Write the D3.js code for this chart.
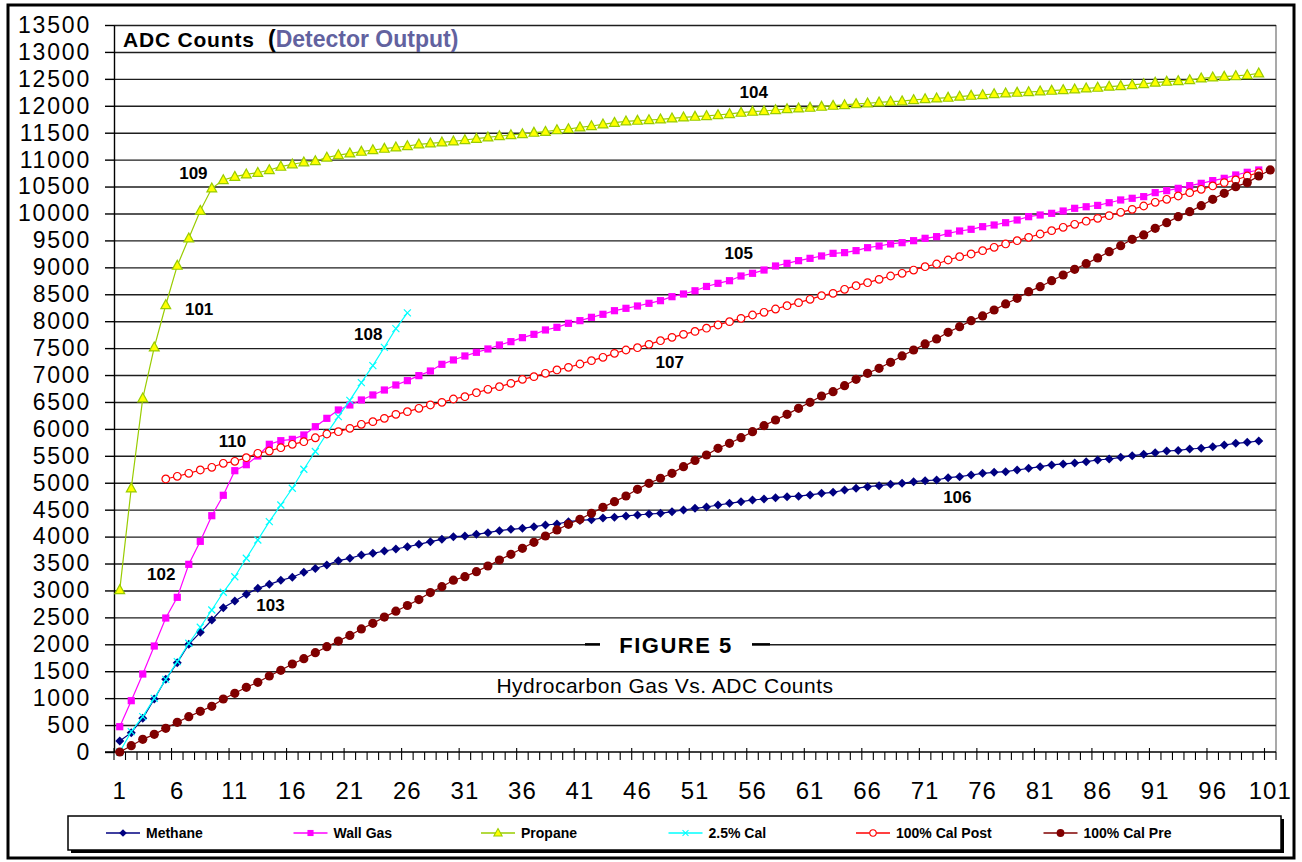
<!DOCTYPE html>
<html>
<head>
<meta charset="utf-8">
<script src="https://cdn.jsdelivr.net/npm/d3@7"></script>
<style>
  body { margin: 0; background: #fff; }
  svg { display: block; font-family: "Liberation Sans", Arial, sans-serif; }
</style>
</head>
<body>
<div id="chart"></div>
<script>
// categories on the x axis (sample number)
const categories = d3.range(1, 102);
const xTickLabels = [1, 6, 11, 16, 21, 26, 31, 36, 41, 46, 51, 56, 61, 66, 71, 76, 81, 86, 91, 96, 101];
const yTickValues = [0, 500, 1000, 1500, 2000, 2500, 3000, 3500, 4000, 4500, 5000, 5500, 6000, 6500,
  7000, 7500, 8000, 8500, 9000, 9500, 10000, 10500, 11000, 11500, 12000, 12500, 13000, 13500];

const seriesNames = ['Methane', 'Wall Gas', 'Propane', '2.5% Cal', '100% Cal Post', '100% Cal Pre'];

const methane = [204, 359, 625, 984, 1350, 1659, 2000, 2222, 2451, 2680,
  2804, 2928, 3039, 3113, 3188, 3244, 3337, 3408, 3473, 3553,
  3597, 3658, 3689, 3733, 3770, 3812, 3856, 3905, 3949, 3998,
  4010, 4042, 4073, 4110, 4135, 4154, 4184, 4215, 4234, 4277,
  4300, 4315, 4345, 4360, 4383, 4401, 4420, 4432, 4463, 4494,
  4525, 4550, 4587, 4618, 4649, 4680, 4698, 4723, 4741, 4750,
  4773, 4804, 4822, 4865, 4897, 4927, 4946, 4971, 4990, 5020,
  5039, 5051, 5094, 5113, 5144, 5175, 5194, 5206, 5237, 5268,
  5299, 5330, 5350, 5365, 5391, 5422, 5441, 5472, 5503, 5528,
  5558, 5589, 5600, 5627, 5640, 5670, 5701, 5732, 5751, 5775];

const wallGas = [470, 953, 1448, 1968, 2488, 2872, 3485, 3912, 4388, 4767,
  5224, 5335, 5497, 5714, 5781, 5806, 5887, 6041, 6196, 6351,
  6444, 6537, 6630, 6722, 6815, 6896, 6989, 7075, 7199, 7280,
  7354, 7422, 7484, 7558, 7620, 7694, 7756, 7837, 7886, 7960,
  8010, 8072, 8128, 8195, 8239, 8282, 8332, 8381, 8455, 8505,
  8565, 8645, 8703, 8752, 8839, 8889, 8950, 9025, 9074, 9124,
  9167, 9211, 9260, 9273, 9310, 9365, 9396, 9434, 9458, 9495,
  9539, 9570, 9632, 9675, 9706, 9755, 9786, 9829, 9879, 9941,
  9972, 10003, 10046, 10096, 10125, 10150, 10200, 10251, 10282, 10313,
  10387, 10424, 10467, 10517, 10560, 10610, 10653, 10715, 10765, 10808];

const propane = [3008, 4897, 6568, 7515, 8300, 9031, 9539, 10052, 10468, 10622,
  10683, 10727, 10757, 10808, 10870, 10914, 10951, 10975, 11040, 11085,
  11117, 11148, 11179, 11204, 11229, 11253, 11284, 11303, 11322, 11340,
  11365, 11389, 11414, 11439, 11458, 11476, 11501, 11519, 11550, 11569,
  11600, 11625, 11656, 11686, 11711, 11724, 11736, 11749, 11767, 11786,
  11798, 11811, 11829, 11848, 11872, 11891, 11903, 11922, 11940, 11953,
  11965, 11984, 12002, 12015, 12034, 12046, 12065, 12077, 12085, 12108,
  12126, 12139, 12151, 12170, 12188, 12201, 12219, 12232, 12244, 12256,
  12269, 12281, 12294, 12306, 12325, 12337, 12356, 12368, 12387, 12405,
  12430, 12448, 12461, 12479, 12510, 12529, 12541, 12554, 12572, 12603];

const cal25 = [0, 377, 656, 997, 1350, 1677, 2019, 2316, 2637, 2966,
  3255, 3597, 3937, 4277, 4587, 4897, 5250, 5580, 5918, 6227,
  6530, 6858, 7175, 7515, 7862, 8155];

const calPost = [null, null, null, null, 5070, 5120, 5175, 5237, 5287, 5361,
  5398, 5465, 5547, 5589, 5651, 5714, 5762, 5835, 5905, 5948,
  6010, 6085, 6134, 6196, 6270, 6320, 6382, 6444, 6493, 6555,
  6598, 6672, 6735, 6784, 6846, 6920, 6970, 7032, 7094, 7143,
  7205, 7267, 7329, 7403, 7465, 7508, 7570, 7638, 7700, 7756,
  7810, 7870, 7929, 7991, 8053, 8115, 8165, 8226, 8288, 8344,
  8406, 8474, 8517, 8592, 8659, 8715, 8777, 8839, 8889, 8950,
  9012, 9062, 9136, 9198, 9248, 9310, 9372, 9434, 9495, 9557,
  9619, 9681, 9743, 9799, 9857, 9910, 9960, 10022, 10077, 10139,
  10208, 10263, 10325, 10387, 10449, 10511, 10573, 10622, 10696, 10758];

const calPre = [0, 117, 235, 328, 440, 551, 656, 755, 848, 984,
  1090, 1201, 1294, 1411, 1517, 1634, 1733, 1844, 1955, 2060,
  2165, 2285, 2390, 2505, 2615, 2720, 2830, 2960, 3070, 3190,
  3256, 3349, 3454, 3565, 3671, 3782, 3894, 4011, 4123, 4228,
  4321, 4432, 4544, 4649, 4754, 4878, 4990, 5083, 5175, 5299,
  5415, 5515, 5640, 5732, 5837, 5948, 6060, 6165, 6270, 6382,
  6493, 6611, 6691, 6802, 6920, 7032, 7125, 7236, 7354, 7465,
  7577, 7670, 7793, 7898, 8010, 8097, 8208, 8320, 8425, 8548,
  8641, 8752, 8858, 8963, 9068, 9175, 9291, 9402, 9520, 9601,
  9725, 9829, 9941, 10034, 10145, 10263, 10375, 10498, 10573, 10696,
  10808];

// callout numbers placed at [category, value]
const calloutText = ['101', '102', '103', '104', '105', '106', '107', '108', '109', '110'];
const calloutCat = [7.9, 4.6, 14.1, 56.1, 54.8, 73.8, 48.8, 22.6, 7.4, 10.8];
const calloutVal = [8227, 3305, 2730, 12256, 9266, 4735, 7242, 7762, 10752, 5775];

const width = 1302;
const height = 862;
const plot = { left: 114, right: 1276, top: 25, bottom: 752 };

const svg = d3.select('#chart')
  .append('svg')
  .attr('width', width)
  .attr('height', height);

// category centres sit half a step inside each band
const x = d3.scaleLinear()
  .domain([0.5, categories.length + 0.5])
  .range([plot.left, plot.right]);

const y = d3.scaleLinear()
  .domain([0, 13500])
  .range([plot.bottom, plot.top]);

// outer frame
svg.append('rect')
  .attr('x', 8).attr('y', 5)
  .attr('width', 1286).attr('height', 853)
  .attr('fill', '#fff')
  .attr('stroke', '#000')
  .attr('stroke-width', 3);

// plot right border
svg.append('line')
  .attr('x1', plot.right).attr('x2', plot.right)
  .attr('y1', plot.top).attr('y2', plot.bottom)
  .attr('stroke', '#8c8c8c').attr('stroke-width', 1.5);

// gridlines
const grid = svg.append('g')
  .attr('class', 'gridlines')
  .attr('transform', `translate(${plot.left}, 0)`)
  .call(d3.axisLeft(y).tickValues(yTickValues.slice(1)).tickFormat('').tickSize(-(plot.right - plot.left)));
grid.select('.domain').remove();
grid.selectAll('line').attr('stroke', '#1e1e1e').attr('stroke-width', 1.4);

// y axis
const yAxis = svg.append('g')
  .attr('transform', `translate(${plot.left}, 0)`)
  .call(d3.axisLeft(y).tickValues(yTickValues).tickFormat(d3.format('d'))
    .tickSize(9).tickPadding(14).tickSizeOuter(0));
yAxis.select('.domain').attr('stroke', '#000').attr('stroke-width', 1.4);
yAxis.selectAll('line').attr('stroke', '#000').attr('stroke-width', 1.4);
yAxis.selectAll('text')
  .attr('font-family', '"Liberation Sans", Arial, sans-serif')
  .attr('font-size', 23)
  .attr('letter-spacing', 1.8)
  .attr('fill', '#000');

// x axis: ticks between categories, labels every fifth category
const xAxis = svg.append('g')
  .attr('transform', `translate(0, ${plot.bottom})`);
xAxis.append('line')
  .attr('x1', plot.left - 9).attr('x2', plot.right)
  .attr('stroke', '#000').attr('stroke-width', 1.6);
const boundaries = categories.map(c => c - 0.5).concat([categories.length + 0.5]);
xAxis.selectAll('line.tick')
  .data(boundaries)
  .enter()
  .append('line')
  .attr('class', 'tick')
  .attr('x1', d => x(d)).attr('x2', d => x(d))
  .attr('y1', (d, i) => (i % 5 === 0 ? -4 : 0))
  .attr('y2', 8)
  .attr('stroke', '#000').attr('stroke-width', 1.1);
xAxis.selectAll('text')
  .data(xTickLabels)
  .enter()
  .append('text')
  .attr('x', d => x(d))
  .attr('y', 47)
  .attr('text-anchor', 'middle')
  .attr('font-size', 24)
  .attr('letter-spacing', 1)
  .text(d => d);

// title inside the plot
const title = svg.append('text')
  .attr('x', 123).attr('y', 47)
  .attr('font-weight', 'bold');
title.append('tspan').attr('font-size', 21).attr('letter-spacing', 0.8).text('ADC Counts');
title.append('tspan').attr('x', 268).attr('font-size', 23).text('(');
title.append('tspan').attr('font-size', 23).attr('fill', '#62629f').text('Detector Output)');

// series
const line = d3.line()
  .defined(d => d != null)
  .x((d, i) => x(categories[i]))
  .y(d => y(d));

const series = [
  { name: seriesNames[0], values: methane, color: '#000080', marker: 'diamond' },
  { name: seriesNames[1], values: wallGas, color: '#ff00ff', marker: 'square' },
  { name: seriesNames[2], values: propane, color: '#99cc00', marker: 'triangle' },
  { name: seriesNames[3], values: cal25, color: '#00ffff', marker: 'cross' },
  { name: seriesNames[4], values: calPost, color: '#ff0000', marker: 'ring' },
  { name: seriesNames[5], values: calPre, color: '#800000', marker: 'dot' }
];

function drawMarker(g, type, color) {
  if (type === 'diamond') {
    g.append('path').attr('d', 'M0,-4.5L4.5,0L0,4.5L-4.5,0Z').attr('fill', color);
  } else if (type === 'square') {
    g.append('rect').attr('x', -3.6).attr('y', -3.6).attr('width', 7.2).attr('height', 7.2).attr('fill', color);
  } else if (type === 'triangle') {
    g.append('path').attr('d', 'M0,-5.3L4.9,3.6L-4.9,3.6Z')
      .attr('fill', '#ffff00').attr('stroke', color).attr('stroke-width', 1.2);
  } else if (type === 'cross') {
    g.append('path').attr('d', 'M-3.5,-3.5L3.5,3.5M-3.5,3.5L3.5,-3.5')
      .attr('stroke', color).attr('stroke-width', 1.2).attr('fill', 'none');
  } else if (type === 'ring') {
    g.append('circle').attr('r', 3.8).attr('fill', '#fff').attr('stroke', color).attr('stroke-width', 1.2);
  } else {
    g.append('circle').attr('r', 4.6).attr('fill', color);
  }
}

series.forEach(s => {
  const g = svg.append('g').attr('class', 'series');
  g.append('path')
    .datum(s.values)
    .attr('d', line)
    .attr('fill', 'none')
    .attr('stroke', s.color)
    .attr('stroke-width', 1.2);
  g.selectAll('g.pt')
    .data(s.values.map((v, i) => ({ c: categories[i], v })).filter(d => d.v != null))
    .enter()
    .append('g')
    .attr('class', 'pt')
    .attr('transform', d => `translate(${x(d.c)},${y(d.v)})`)
    .each(function () { drawMarker(d3.select(this), s.marker, s.color); });
});

// callout numbers
svg.append('g')
  .selectAll('text')
  .data(calloutText)
  .enter()
  .append('text')
  .attr('x', (d, i) => x(calloutCat[i]))
  .attr('y', (d, i) => y(calloutVal[i]))
  .attr('dy', '0.35em')
  .attr('text-anchor', 'middle')
  .attr('font-size', 17)
  .attr('font-weight', 'bold')
  .text(d => d);

// figure caption
const cap = svg.append('g');
cap.append('rect')
  .attr('x', 600).attr('y', 632).attr('width', 152).attr('height', 26)
  .attr('fill', '#fff');
cap.append('line').attr('x1', 585).attr('x2', 600).attr('y1', y(2000)).attr('y2', y(2000))
  .attr('stroke', '#000').attr('stroke-width', 2.4);
cap.append('line').attr('x1', 752).attr('x2', 770).attr('y1', y(2000)).attr('y2', y(2000))
  .attr('stroke', '#000').attr('stroke-width', 2.4);
cap.append('text')
  .attr('x', 676).attr('y', 653)
  .attr('text-anchor', 'middle')
  .attr('font-size', 22).attr('font-weight', 'bold')
  .attr('letter-spacing', 1.5)
  .text('FIGURE 5');
cap.append('text')
  .attr('x', 665).attr('y', 693)
  .attr('text-anchor', 'middle')
  .attr('font-size', 21)
  .attr('letter-spacing', 0.5)
  .text('Hydrocarbon Gas Vs. ADC Counts');

// legend
const legend = svg.append('g');
legend.append('rect')
  .attr('x', 71).attr('y', 819).attr('width', 1213).attr('height', 34)
  .attr('fill', '#000');
legend.append('rect')
  .attr('x', 68).attr('y', 816).attr('width', 1213).attr('height', 34)
  .attr('fill', '#fff').attr('stroke', '#000').attr('stroke-width', 1.5);

const legendStep = 187.5;
series.forEach((s, i) => {
  const lx = 106 + i * legendStep;
  const item = legend.append('g').attr('transform', `translate(${lx}, 833)`);
  item.append('line').attr('x1', 0).attr('x2', 34)
    .attr('stroke', s.color).attr('stroke-width', 1.3);
  const m = item.append('g').attr('transform', 'translate(17,0) scale(0.85)');
  drawMarker(m, s.marker, s.color);
  item.append('text')
    .attr('x', 40).attr('y', 5)
    .attr('font-size', 14).attr('font-weight', 'bold')
    .text(s.name);
});
</script>
</body>
</html>
